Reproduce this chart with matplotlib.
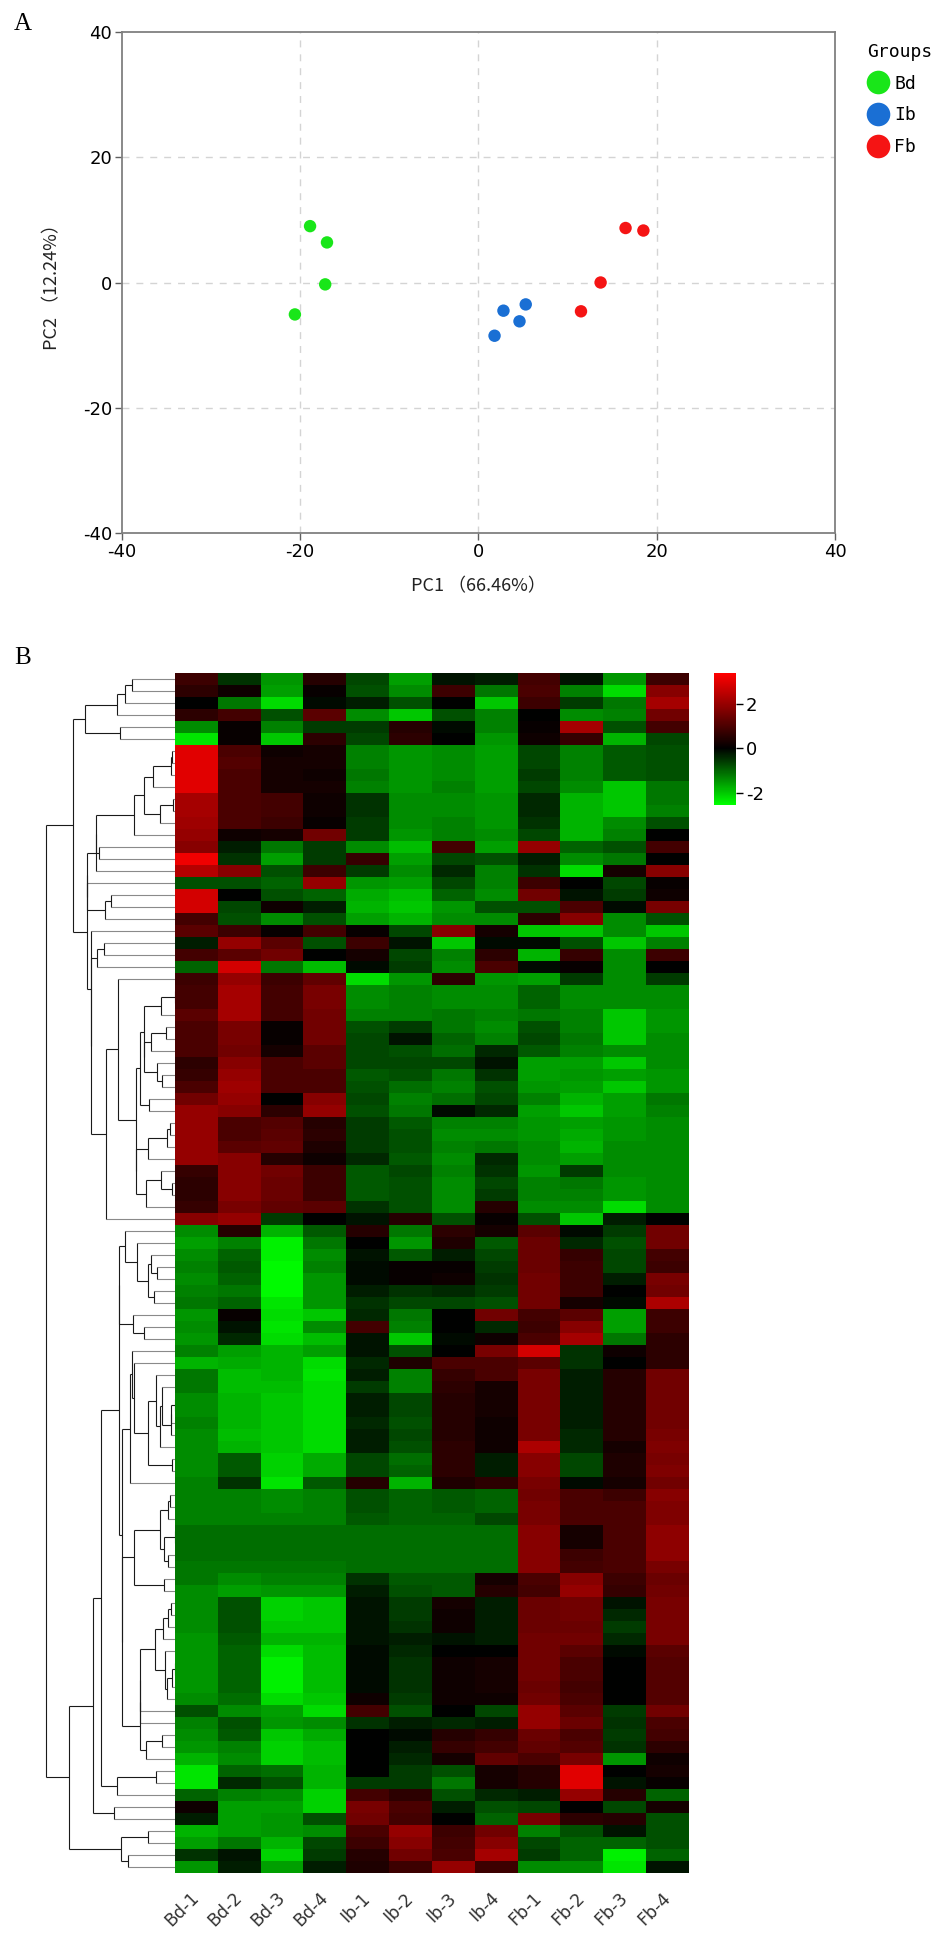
import numpy as np
import matplotlib
matplotlib.use("Agg")
import matplotlib.pyplot as plt
from matplotlib.colors import LinearSegmentedColormap, Normalize
from matplotlib.lines import Line2D

plt.rcParams['axes.unicode_minus'] = False

# ---- panel A : PCA scores ----
pc1_bd = [-18.9, -17.0, -17.2, -20.6]
pc2_bd = [9.0, 6.4, -0.3, -5.1]
pc1_ib = [2.8, 5.3, 4.6, 1.8]
pc2_ib = [-4.5, -3.5, -6.2, -8.5]
pc1_fb = [11.5, 13.7, 16.5, 18.5]
pc2_fb = [-4.6, 0.0, 8.7, 8.3]
groups = ["Bd", "Ib", "Fb"]
group_colors = ["#19e619", "#1a6fd4", "#f51414"]

# ---- panel B : heatmap (z-scores, rows top to bottom) ----
samples = ["Bd-1", "Bd-2", "Bd-3", "Bd-4", "Ib-1", "Ib-2", "Ib-3", "Ib-4",
           "Fb-1", "Fb-2", "Fb-3", "Fb-4"]
heat = [
    [0.8, -0.5, -1.5, 0.5, -0.7, -1.6, -0.2, -0.3, 0.9, -0.2, -1.5, 0.8],
    [0.6, 0.2, -1.6, 0.1, -0.8, -1.4, 0.8, -1.2, 1.0, -1.3, -2.2, 1.8],
    [0.0, -1.2, -2.2, -0.1, -0.3, -0.8, 0.0, -2.0, 0.8, -0.6, -1.2, 2.2],
    [0.6, 0.9, -0.8, 1.2, -1.4, -2.0, -0.8, -1.3, 0.0, -1.4, -1.3, 1.5],
    [-1.4, 0.1, -1.3, -0.6, -0.6, 0.5, -0.1, -1.3, 0.1, 2.2, -0.8, 0.9],
    [-2.3, 0.1, -2.0, 0.6, -0.7, 0.6, 0.0, -1.5, 0.2, 0.7, -1.8, -0.7],
    [3.0, 1.0, 0.2, 0.3, -1.3, -1.5, -1.4, -1.6, -0.7, -1.3, -0.9, -0.8],
    [3.0, 1.1, 0.3, 0.3, -1.3, -1.5, -1.4, -1.6, -0.7, -1.3, -0.9, -0.8],
    [3.0, 1.0, 0.3, 0.2, -1.2, -1.5, -1.4, -1.6, -0.6, -1.3, -0.9, -0.8],
    [3.0, 1.0, 0.3, 0.3, -1.3, -1.5, -1.3, -1.6, -0.7, -1.4, -2.0, -1.2],
    [2.2, 1.0, 0.9, 0.2, -0.5, -1.4, -1.4, -1.5, -0.4, -1.8, -2.0, -1.2],
    [2.2, 1.0, 0.9, 0.2, -0.5, -1.4, -1.4, -1.5, -0.4, -1.8, -2.0, -1.3],
    [2.1, 1.0, 0.8, 0.1, -0.6, -1.4, -1.3, -1.5, -0.5, -1.8, -1.4, -0.8],
    [2.0, 0.2, 0.3, 1.5, -0.6, -1.5, -1.3, -1.4, -0.7, -1.8, -1.3, 0.0],
    [1.8, -0.3, -1.2, -0.6, -1.4, -1.9, 0.9, -1.6, 2.0, -1.0, -0.8, 0.9],
    [3.2, -0.5, -1.6, -0.6, 0.7, -1.6, -0.7, -0.8, -0.3, -1.4, -1.2, 0.0],
    [2.4, 1.8, -0.8, 0.8, -0.6, -1.4, -0.4, -1.3, -0.5, -2.2, 0.3, 1.8],
    [-0.8, -0.8, -1.0, 2.0, -1.5, -1.6, -0.7, -1.3, 0.8, 0.0, -0.7, 0.1],
    [2.8, 0.0, -0.8, -1.0, -1.7, -1.9, -1.0, -1.4, 1.5, -0.2, -0.6, 0.2],
    [2.8, -0.7, 0.2, -0.3, -1.8, -2.0, -1.5, -0.8, -0.8, 1.0, -0.1, 1.6],
    [0.9, -0.8, -1.4, -0.8, -1.6, -1.8, -1.4, -1.4, 0.6, 1.8, -1.4, -0.8],
    [1.2, 0.8, 0.1, 0.9, 0.1, -0.7, 1.8, 0.3, -2.0, -2.0, -1.4, -2.0],
    [-0.3, 2.0, 1.2, -0.8, 0.8, -0.2, -2.0, -0.1, -0.1, -0.8, -2.0, -1.3],
    [0.9, 1.2, 1.5, 0.0, 0.3, -0.7, -1.3, 0.6, -1.8, 0.7, -1.4, 0.8],
    [-1.0, 2.8, -1.2, -1.9, -0.1, -0.6, -1.4, 1.0, -0.1, 0.1, -1.4, 0.0],
    [0.8, 2.0, 0.8, 1.3, -2.2, -1.5, 0.6, -1.5, -1.6, -0.6, -1.4, -0.6],
    [0.9, 2.2, 0.9, 1.6, -1.4, -1.3, -1.4, -1.4, -1.0, -1.4, -1.4, -1.4],
    [0.9, 2.2, 0.9, 1.6, -1.4, -1.3, -1.4, -1.4, -1.0, -1.4, -1.4, -1.4],
    [1.2, 2.2, 0.9, 1.5, -1.3, -1.3, -1.2, -1.3, -1.2, -1.3, -2.0, -1.5],
    [1.0, 1.6, 0.1, 1.5, -0.8, -0.6, -1.2, -1.4, -0.8, -1.3, -2.0, -1.5],
    [1.0, 1.6, 0.1, 1.5, -0.7, -0.2, -1.0, -1.3, -0.7, -1.2, -2.0, -1.4],
    [1.0, 1.5, 0.3, 1.2, -0.7, -0.8, -1.1, -0.4, -0.9, -1.3, -1.4, -1.4],
    [0.6, 1.8, 1.0, 1.2, -0.7, -0.7, -0.7, -0.2, -1.6, -1.6, -2.0, -1.4],
    [0.7, 2.0, 1.0, 1.0, -0.9, -0.8, -1.2, -0.5, -1.6, -1.5, -1.6, -1.5],
    [1.0, 2.1, 1.0, 1.0, -0.8, -1.1, -1.3, -0.8, -1.5, -1.6, -2.0, -1.5],
    [1.5, 2.0, 0.0, 1.8, -0.7, -1.3, -1.1, -0.7, -1.3, -1.8, -1.6, -1.2],
    [2.0, 1.8, 0.6, 2.0, -0.8, -1.2, -0.1, -0.4, -1.6, -2.0, -1.6, -1.3],
    [2.0, 1.0, 1.1, 0.5, -0.6, -0.9, -1.3, -1.3, -1.5, -1.6, -1.5, -1.4],
    [2.0, 1.0, 1.2, 0.6, -0.6, -0.8, -1.4, -1.4, -1.5, -1.7, -1.5, -1.4],
    [2.0, 1.2, 1.3, 0.4, -0.6, -0.8, -1.3, -1.2, -1.4, -1.8, -1.4, -1.4],
    [2.0, 1.8, 0.5, 0.2, -0.4, -0.9, -1.4, -0.4, -1.4, -1.6, -1.4, -1.4],
    [0.7, 1.8, 1.5, 0.8, -0.9, -0.7, -1.3, -0.5, -1.5, -0.6, -1.4, -1.4],
    [0.6, 1.8, 1.4, 0.8, -0.9, -0.8, -1.4, -0.7, -1.3, -1.2, -1.5, -1.4],
    [0.6, 1.8, 1.4, 0.8, -0.9, -0.8, -1.4, -0.6, -1.3, -1.3, -1.5, -1.4],
    [0.7, 1.6, 1.3, 1.2, -0.5, -0.8, -1.4, 0.5, -1.4, -1.4, -2.2, -1.4],
    [1.8, 2.0, -0.6, 0.0, -0.2, 0.5, -0.8, 0.1, -0.8, -2.0, -0.3, 0.0],
    [-1.4, 0.5, -1.8, -0.9, 0.5, -1.2, 0.6, 0.3, 1.2, -0.1, -0.6, 1.5],
    [-1.6, -1.3, -2.4, -1.2, 0.0, -1.5, 0.4, -0.9, 1.4, -0.4, -0.8, 1.5],
    [-1.4, -1.0, -2.4, -1.4, -0.2, -0.9, -0.3, -0.7, 1.4, 0.7, -0.7, 0.9],
    [-1.3, -0.9, -2.5, -1.3, -0.1, 0.1, 0.1, -0.6, 1.4, 0.8, -0.7, 0.8],
    [-1.4, -1.0, -2.5, -1.5, -0.1, 0.1, 0.2, -0.5, 1.5, 0.8, -0.3, 1.6],
    [-1.3, -1.2, -2.5, -1.5, -0.3, -0.5, -0.4, -0.6, 1.5, 0.8, 0.0, 1.5],
    [-1.2, -1.0, -2.3, -1.5, -0.5, -0.7, -0.7, -0.8, 1.5, 0.3, -0.1, 2.3],
    [-1.5, 0.1, -2.2, -2.0, -0.4, -1.2, 0.0, 1.5, 0.9, 1.2, -1.6, 0.8],
    [-1.4, -0.2, -2.3, -1.4, 0.9, -1.3, 0.0, -0.4, 0.8, 1.8, -1.6, 0.8],
    [-1.5, -0.4, -2.2, -1.9, -0.2, -2.0, -0.1, 0.2, 1.0, 2.2, -1.2, 0.6],
    [-1.3, -1.6, -1.8, -1.6, -0.2, -0.8, 0.0, 1.6, 2.8, -0.5, 0.2, 0.6],
    [-1.8, -1.7, -1.8, -2.2, -0.4, 0.4, 1.0, 1.0, 1.2, -0.5, 0.0, 0.6],
    [-1.2, -1.9, -1.8, -2.3, -0.3, -1.3, 0.7, 1.0, 1.6, -0.3, 0.5, 1.5],
    [-1.2, -1.9, -1.9, -2.2, -0.6, -1.3, 0.6, 0.3, 1.6, -0.3, 0.5, 1.5],
    [-1.4, -1.8, -2.0, -2.2, -0.3, -0.7, 0.5, 0.3, 1.6, -0.3, 0.5, 1.5],
    [-1.4, -1.8, -2.0, -2.2, -0.3, -0.7, 0.5, 0.3, 1.6, -0.3, 0.5, 1.5],
    [-1.3, -1.8, -2.0, -2.2, -0.4, -0.8, 0.5, 0.2, 1.6, -0.3, 0.5, 1.5],
    [-1.4, -1.9, -2.0, -2.2, -0.3, -0.7, 0.5, 0.2, 1.6, -0.4, 0.5, 1.6],
    [-1.4, -1.8, -2.0, -2.2, -0.3, -0.8, 0.6, 0.2, 2.3, -0.4, 0.3, 1.7],
    [-1.4, -0.9, -2.1, -1.7, -0.7, -1.1, 0.6, -0.3, 1.8, -0.7, 0.4, 1.6],
    [-1.4, -0.9, -2.1, -1.7, -0.7, -1.0, 0.6, -0.3, 1.8, -0.7, 0.4, 1.7],
    [-1.3, -0.5, -2.3, -0.9, 0.5, -1.8, 0.4, 0.6, 1.6, -0.1, 0.3, 1.5],
    [-1.3, -1.3, -1.4, -1.3, -0.8, -1.0, -0.9, -1.0, 1.5, 1.0, 0.8, 1.8],
    [-1.3, -1.3, -1.4, -1.3, -0.8, -1.0, -0.9, -1.0, 1.6, 1.0, 1.0, 1.7],
    [-1.3, -1.3, -1.3, -1.3, -0.9, -1.0, -1.0, -0.7, 1.6, 1.0, 1.0, 1.7],
    [-1.1, -1.1, -1.1, -1.1, -1.1, -1.1, -1.1, -1.1, 1.8, 0.3, 1.0, 1.9],
    [-1.1, -1.1, -1.1, -1.1, -1.1, -1.1, -1.1, -1.1, 1.8, 0.3, 1.0, 1.9],
    [-1.1, -1.1, -1.1, -1.1, -1.1, -1.1, -1.1, -1.1, 1.8, 0.8, 1.0, 1.9],
    [-1.2, -1.2, -1.2, -1.2, -1.1, -1.1, -1.1, -1.1, 1.8, 0.9, 1.0, 1.6],
    [-1.2, -1.4, -1.3, -1.3, -0.5, -0.9, -0.9, 0.3, 1.0, 1.8, 0.8, 1.4],
    [-1.4, -1.6, -1.5, -1.5, -0.3, -0.8, -0.9, 0.5, 0.9, 2.0, 0.7, 1.5],
    [-1.4, -0.8, -2.1, -2.0, -0.2, -0.6, 0.3, -0.3, 1.4, 1.5, -0.2, 1.6],
    [-1.4, -0.8, -2.1, -2.0, -0.2, -0.6, 0.2, -0.3, 1.4, 1.5, -0.4, 1.6],
    [-1.4, -0.8, -2.0, -2.0, -0.2, -0.5, 0.2, -0.3, 1.4, 1.4, -0.6, 1.6],
    [-1.5, -0.9, -1.8, -1.8, -0.2, -0.3, -0.2, -0.3, 1.5, 1.5, -0.4, 1.6],
    [-1.5, -1.0, -2.2, -1.9, -0.1, -0.4, 0.0, 0.0, 1.5, 1.2, -0.1, 1.2],
    [-1.5, -1.0, -2.4, -1.9, -0.1, -0.5, 0.2, 0.3, 1.5, 1.0, 0.0, 1.1],
    [-1.5, -1.0, -2.4, -1.9, -0.1, -0.5, 0.2, 0.3, 1.5, 1.0, 0.0, 1.1],
    [-1.5, -1.0, -2.4, -1.9, -0.1, -0.5, 0.2, 0.3, 1.4, 0.9, 0.0, 1.1],
    [-1.4, -1.1, -2.2, -2.0, 0.2, -0.6, 0.2, 0.2, 1.5, 1.0, 0.0, 1.1],
    [-0.8, -1.4, -1.6, -2.2, 0.9, -0.8, 0.0, -0.7, 2.0, 1.2, -0.6, 1.5],
    [-1.3, -0.8, -1.5, -1.4, -0.5, -0.3, -0.4, -0.3, 2.0, 1.4, -0.5, 1.0],
    [-1.4, -0.9, -2.0, -1.7, 0.0, -0.1, 0.5, 0.7, 1.4, 1.0, -0.6, 0.9],
    [-1.5, -1.3, -2.1, -1.9, 0.0, -0.3, 0.7, 0.9, 1.3, 1.1, -0.5, 0.6],
    [-1.8, -1.4, -2.1, -1.9, 0.0, -0.4, 0.3, 1.3, 1.0, 1.6, -1.5, 0.2],
    [-2.3, -1.0, -1.1, -1.8, 0.0, -0.6, -0.8, 0.3, 0.5, 3.0, 0.0, 0.3],
    [-2.3, -0.4, -0.8, -1.8, -0.6, -0.6, -1.2, 0.3, 0.5, 3.0, -0.2, 0.1],
    [-1.0, -1.3, -1.4, -2.1, 0.9, 0.6, -0.8, -0.4, -0.3, 2.0, 0.5, -1.0],
    [0.2, -1.6, -1.6, -2.1, 1.6, 1.0, -0.3, -0.8, -0.7, 0.0, -0.7, 0.3],
    [-0.3, -1.6, -1.5, -0.8, 1.5, 0.9, 0.0, -1.0, 1.6, 0.6, 0.5, -0.8],
    [-1.8, -1.6, -1.5, -1.4, 1.0, 2.0, 0.8, 1.5, -1.3, -0.8, -0.2, -0.8],
    [-1.6, -1.2, -1.8, -0.7, 0.8, 1.8, 0.9, 1.8, -0.7, -1.0, -1.0, -0.8],
    [-0.5, -0.2, -2.1, -0.6, 0.5, 1.5, 1.0, 2.2, -0.6, -1.0, -2.4, -1.0],
    [-1.5, -0.3, -1.6, -0.3, 0.4, 0.8, 2.0, 0.8, -1.4, -1.4, -2.3, -0.2],
]
cbar_ticks = [-2, 0, 2]

mat = np.array(heat)
nrow, ncol = mat.shape
vmin, vmax = -2.56, 3.4

fig = plt.figure(figsize=(9.45, 19.35), dpi=100)
W, H = 945.0, 1935.0


def box(x0, y0, x1, y1):
    # pixel box (top-left origin) -> figure rect
    return [x0 / W, 1 - y1 / H, (x1 - x0) / W, (y1 - y0) / H]


# ================= A =================
ax = fig.add_axes(box(122, 32, 835, 533))
for xs, ys, c in zip([pc1_bd, pc1_ib, pc1_fb], [pc2_bd, pc2_ib, pc2_fb], group_colors):
    ax.scatter(xs, ys, s=80, color=c, edgecolors="none", zorder=3)
ax.set_xlim(-40, 40)
ax.set_ylim(-40, 40)
ax.set_xticks([-40, -20, 0, 20, 40])
ax.set_yticks([-40, -20, 0, 20, 40])
for v in [-20, 0, 20]:
    ax.axvline(v, color="#d4d4d4", lw=1, ls=(0, (5, 5)), zorder=1)
    ax.axhline(v, color="#d4d4d4", lw=1, ls=(0, (5, 5)), zorder=1)
for sp in ax.spines.values():
    sp.set_color("#808080")
    sp.set_linewidth(1.3)
ax.tick_params(direction="out", length=5, width=1, color="#606060",
               labelsize=13, pad=2)
ax.set_xlabel("PC1 （66.46%）", family=["Noto Sans CJK SC", "DejaVu Sans"],
              fontsize=13, labelpad=12, color="#222222")
ax.set_ylabel("PC2 （12.24%）", family=["Noto Sans CJK SC", "DejaVu Sans"],
              fontsize=13, labelpad=16, color="#222222")

handles = [Line2D([], [], marker="o", ls="", markersize=17, color=c,
                  markeredgewidth=0) for c in group_colors]
leg = fig.legend(handles, groups, title="Groups", loc="upper left",
                 bbox_to_anchor=(860 / W, 1 - 36 / H), frameon=False,
                 prop={"family": "DejaVu Sans Mono", "size": 13},
                 handletextpad=0.3, labelspacing=0.75, handlelength=1.2,
                 borderaxespad=0)
leg.get_title().set_family("DejaVu Sans Mono")
leg.get_title().set_fontsize(13)
leg._legend_box.align = "left"

fig.text(14 / W, 1 - 24 / H, "A", family="Liberation Serif", fontsize=18,
         va="center", ha="left")
fig.text(14 / W, 1 - 658 / H, "B", family="Liberation Serif", fontsize=18,
         va="center", ha="left")

# ================= B =================
cmap = LinearSegmentedColormap.from_list(
    "gkr", [(0.0, (0.0, 1.0, 0.0)),
            (-vmin / (vmax - vmin), (0.0, 0.0, 0.0)),
            (1.0, (1.0, 0.0, 0.0))])
norm = Normalize(vmin=vmin, vmax=vmax)

axh = fig.add_axes(box(175, 673, 689, 1873))
im = axh.imshow(mat, aspect="auto", cmap=cmap, norm=norm,
                interpolation="nearest")
axh.set_xticks(range(ncol))
axh.set_xticklabels(samples, rotation=45, ha="right", va="center",
                    rotation_mode="anchor", fontsize=12.5, color="#333333")
axh.set_yticks([])
axh.tick_params(axis="x", length=0, pad=16)
for sp in axh.spines.values():
    sp.set_visible(False)

# row dendrogram: average linkage, merging neighbours only (keeps row order)
axd = fig.add_axes(box(45, 673, 175, 1873))
dist = np.sqrt(((mat[:, None, :] - mat[None, :, :]) ** 2).sum(-1))
clusters = [{"rows": [i], "pos": float(i), "h": 0.0} for i in range(nrow)]
segs = []
while len(clusters) > 1:
    best, bj = None, 0
    for j in range(len(clusters) - 1):
        a, b = clusters[j]["rows"], clusters[j + 1]["rows"]
        d = dist[np.ix_(a, b)].mean()
        if best is None or d < best:
            best, bj = d, j
    a, b = clusters[bj], clusters[bj + 1]
    h = max(best, a["h"], b["h"])
    segs.append(([a["h"], h], [a["pos"], a["pos"]], len(a["rows"]) == 1))
    segs.append(([b["h"], h], [b["pos"], b["pos"]], len(b["rows"]) == 1))
    segs.append(([h, h], [a["pos"], b["pos"]], False))
    clusters[bj:bj + 2] = [{"rows": a["rows"] + b["rows"],
                            "pos": (a["pos"] + b["pos"]) / 2, "h": h}]
for xs, ys, leaf in segs:
    axd.plot(xs, ys, color="#8a8a8a" if leaf else "#1a1a1a", lw=0.8,
             solid_capstyle="butt")
top_h = clusters[0]["h"]
axd.set_xlim(top_h * 1.01, 0)
axd.set_ylim(nrow - 0.5, -0.5)
axd.axis("off")

# colour key
cax = fig.add_axes(box(714, 673, 736, 805))
cb = fig.colorbar(im, cax=cax, ticks=cbar_ticks)
cb.outline.set_visible(False)
cb.ax.tick_params(length=5, width=1, labelsize=13, pad=2)

fig.savefig("out.png", dpi=100)
